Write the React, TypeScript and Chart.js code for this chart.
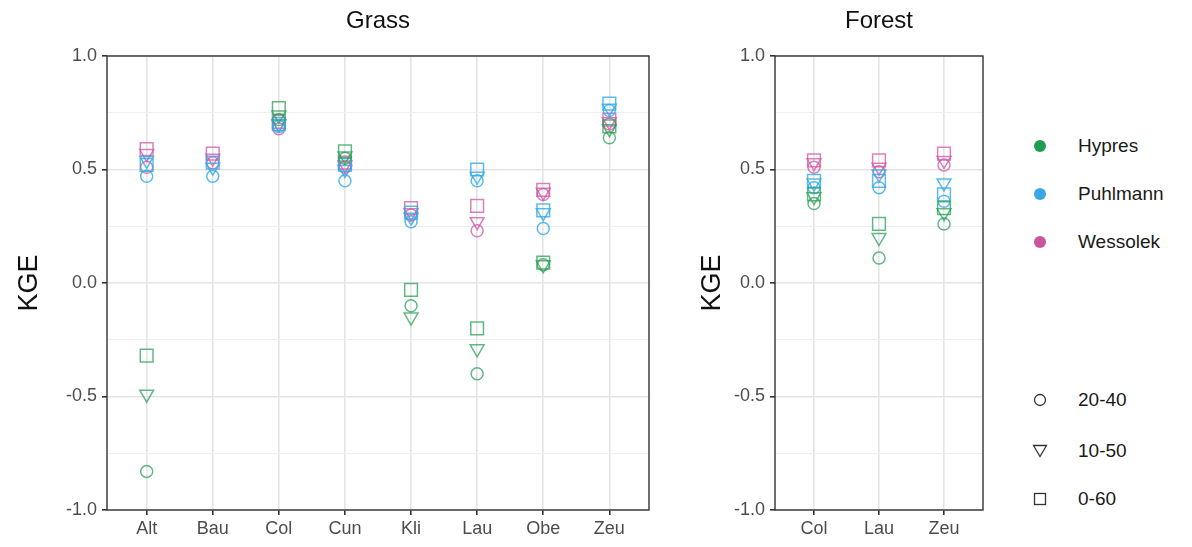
import React, { useEffect, useRef } from 'react';
import { Chart, registerables } from 'chart.js';

Chart.register(...registerables);

// ---------- data ----------
const grassSites = ['Alt', 'Bau', 'Col', 'Cun', 'Kli', 'Lau', 'Obe', 'Zeu'];
const forestSites = ['Col', 'Lau', 'Zeu'];
const modelNames = ['Hypres', 'Puhlmann', 'Wessolek'];
const depthLabels = ['20-40', '10-50', '0-60'];
const yTickValues = [-1, -0.75, -0.5, -0.25, 0, 0.25, 0.5, 0.75, 1];

// Grass panel (order: Alt, Bau, Col, Cun, Kli, Lau, Obe, Zeu)
const grassHypres2040 = [-0.83, null, 0.72, 0.55, -0.10, -0.40, 0.08, 0.64];
const grassHypres1050 = [-0.49, null, 0.74, 0.56, -0.15, -0.29, 0.08, 0.68];
const grassHypres060 = [-0.32, null, 0.77, 0.58, -0.03, -0.20, 0.09, 0.69];
const grassPuhlmann2040 = [0.47, 0.47, 0.69, 0.45, 0.27, 0.45, 0.24, 0.76];
const grassPuhlmann1050 = [0.54, 0.51, 0.70, 0.50, 0.29, 0.47, 0.31, 0.77];
const grassPuhlmann060 = [0.52, 0.53, 0.70, 0.52, 0.31, 0.50, 0.32, 0.79];
const grassWessolek2040 = [0.51, 0.53, 0.68, 0.51, 0.30, 0.23, 0.39, 0.70];
const grassWessolek1050 = [0.57, 0.55, 0.70, 0.52, 0.31, 0.27, 0.40, 0.71];
const grassWessolek060 = [0.59, 0.57, 0.71, 0.53, 0.33, 0.34, 0.41, 0.72];

// Forest panel (order: Col, Lau, Zeu)
const forestHypres2040 = [0.35, 0.11, 0.26];
const forestHypres1050 = [0.38, 0.20, 0.31];
const forestHypres060 = [0.39, 0.26, 0.33];
const forestPuhlmann2040 = [0.42, 0.42, 0.36];
const forestPuhlmann1050 = [0.44, 0.48, 0.44];
const forestPuhlmann060 = [0.45, 0.45, 0.39];
const forestWessolek2040 = [0.51, 0.49, 0.52];
const forestWessolek1050 = [0.53, 0.51, 0.54];
const forestWessolek060 = [0.54, 0.54, 0.57];

// ---------- styles ----------
const FONT = '"Liberation Sans", Arial, Helvetica, sans-serif';
const markerColors = ['rgba(45,160,90,0.75)', 'rgba(50,170,230,0.8)', 'rgba(205,85,165,0.75)'];
const legendColors = ['#1f9e50', '#38a7e2', '#c9559f'];
const depthStyles = [
  { pointStyle: 'circle', radius: 6, rotation: 0 },
  { pointStyle: 'triangle', radius: 8, rotation: 180 },
  { pointStyle: 'rect', radius: 9, rotation: 0 },
];

type Series = (number | null)[][][]; // [model][depth][site]

const grassSeries: Series = [
  [grassHypres2040, grassHypres1050, grassHypres060],
  [grassPuhlmann2040, grassPuhlmann1050, grassPuhlmann060],
  [grassWessolek2040, grassWessolek1050, grassWessolek060],
];
const forestSeries: Series = [
  [forestHypres2040, forestHypres1050, forestHypres060],
  [forestPuhlmann2040, forestPuhlmann1050, forestPuhlmann060],
  [forestWessolek2040, forestWessolek1050, forestWessolek060],
];

function isMajor(v: number) {
  return Math.abs(v * 2 - Math.round(v * 2)) < 1e-6;
}

interface PanelProps {
  title: string;
  sites: string[];
  series: Series;
  left: number;
  width: number;
  yAxisWidth: number;
  rightPad: number;
  kgeX: number;
}

function Panel({ title, sites, series, left, width, yAxisWidth, rightPad, kgeX }: PanelProps) {
  const ref = useRef<HTMLCanvasElement | null>(null);
  useEffect(() => {
    if (!ref.current) return;
    const datasets: any[] = [];
    series.forEach((modelSeries, m) => {
      modelSeries.forEach((vals, d) => {
        const st = depthStyles[d];
        datasets.push({
          label: modelNames[m] + ' ' + depthLabels[d],
          data: vals
            .map((v, i) => (v === null ? null : { x: i + 1, y: v }))
            .filter((p) => p !== null),
          pointStyle: st.pointStyle,
          pointRadius: st.radius,
          pointRotation: st.rotation,
          pointBorderWidth: 1.5,
          borderColor: markerColors[m],
          backgroundColor: 'rgba(0,0,0,0)',
          pointBackgroundColor: 'rgba(0,0,0,0)',
          pointBorderColor: markerColors[m],
          showLine: false,
        });
      });
    });

    const decor = {
      id: 'panelDecor',
      afterDraw(chart: any) {
        const { ctx, chartArea: a } = chart;
        ctx.save();
        ctx.strokeStyle = '#333333';
        ctx.lineWidth = 1.4;
        ctx.strokeRect(a.left, a.top, a.right - a.left, a.bottom - a.top);
        ctx.fillStyle = '#111111';
        ctx.textAlign = 'center';
        ctx.textBaseline = 'middle';
        ctx.font = '24px ' + FONT;
        ctx.fillText(title, (a.left + a.right) / 2, 21);
        ctx.font = '27px ' + FONT;
        ctx.translate(kgeX, (a.top + a.bottom) / 2);
        ctx.rotate(-Math.PI / 2);
        ctx.fillText('KGE', 0, 0);
        ctx.restore();
      },
    };

    const chart = new Chart(ref.current, {
      type: 'scatter',
      data: { datasets },
      plugins: [decor],
      options: {
        responsive: false,
        animation: false,
        devicePixelRatio: 1,
        layout: { padding: { top: 56, right: rightPad, left: 0, bottom: 0 } },
        plugins: { legend: { display: false }, tooltip: { enabled: false }, title: { display: false } },
        scales: {
          x: {
            type: 'linear',
            min: 0.4,
            max: sites.length + 0.6,
            afterBuildTicks: (scale: any) => {
              scale.ticks = sites.map((_, i) => ({ value: i + 1 }));
            },
            afterFit: (scale: any) => {
              scale.height = 37;
            },
            ticks: {
              autoSkip: false,
              maxRotation: 0,
              color: '#4d4d4d',
              font: { size: 18, family: FONT },
              padding: 3,
              callback: (v: any) => sites[Math.round(v) - 1] ?? '',
            },
            grid: { color: '#e4e4e4', lineWidth: 1.6, tickColor: '#333333', tickLength: 5, drawTicks: true },
            border: { display: false },
          },
          y: {
            type: 'linear',
            min: -1,
            max: 1,
            afterBuildTicks: (scale: any) => {
              scale.ticks = yTickValues.map((v) => ({ value: v }));
            },
            afterFit: (scale: any) => {
              scale.width = yAxisWidth;
            },
            ticks: {
              autoSkip: false,
              color: '#4d4d4d',
              font: { size: 18, family: FONT },
              padding: 5,
              callback: (v: any) => (isMajor(v) ? Number(v).toFixed(1) : ''),
            },
            grid: {
              color: (c: any) => (isMajor(c.tick.value) ? '#e4e4e4' : '#efefef'),
              lineWidth: (c: any) => (isMajor(c.tick.value) ? 1.6 : 1),
              tickColor: (c: any) => (isMajor(c.tick.value) ? '#333333' : 'rgba(0,0,0,0)'),
              tickLength: 5,
              drawTicks: true,
            },
            border: { display: false },
          },
        },
      } as any,
    });
    return () => chart.destroy();
  }, []);
  return (
    <canvas
      ref={ref}
      width={width}
      height={547}
      style={{ position: 'absolute', left, top: 0, width, height: 547 }}
    />
  );
}

function Shape({ kind }: { kind: number }) {
  const stroke = '#333';
  return (
    <svg width={18} height={18} viewBox="0 0 18 18" style={{ display: 'block' }}>
      {kind === 0 && <circle cx={9} cy={9} r={5.5} fill="none" stroke={stroke} strokeWidth={1.3} />}
      {kind === 1 && <polygon points="2.5,3.5 15.5,3.5 9,14.5" fill="none" stroke={stroke} strokeWidth={1.3} />}
      {kind === 2 && <rect x={3.5} y={3.5} width={11} height={11} fill="none" stroke={stroke} strokeWidth={1.3} />}
    </svg>
  );
}

function Legend() {
  const colorY = [146, 194, 242];
  const shapeY = [400, 451, 499];
  const textStyle: React.CSSProperties = {
    position: 'absolute',
    left: 1078,
    fontFamily: FONT,
    fontSize: 19,
    color: '#1a1a1a',
    lineHeight: '22px',
    transform: 'translateY(-50%)',
    whiteSpace: 'nowrap',
  };
  return (
    <>
      {modelNames.map((name, i) => (
        <React.Fragment key={name}>
          <div
            style={{
              position: 'absolute',
              left: 1040 - 6,
              top: colorY[i] - 6,
              width: 12,
              height: 12,
              borderRadius: '50%',
              background: legendColors[i],
            }}
          />
          <div style={{ ...textStyle, top: colorY[i] }}>{name}</div>
        </React.Fragment>
      ))}
      {depthLabels.map((lab, i) => (
        <React.Fragment key={lab}>
          <div style={{ position: 'absolute', left: 1040 - 9, top: shapeY[i] - 9 }}>
            <Shape kind={i} />
          </div>
          <div style={{ ...textStyle, top: shapeY[i] }}>{lab}</div>
        </React.Fragment>
      ))}
    </>
  );
}

export default function App() {
  return (
    <div
      style={{
        position: 'fixed',
        left: 0,
        top: 0,
        width: 1192,
        height: 547,
        background: '#ffffff',
        overflow: 'hidden',
      }}
    >
      <Panel
        title="Grass"
        sites={grassSites}
        series={grassSeries}
        left={0}
        width={665}
        yAxisWidth={107}
        rightPad={16}
        kgeX={30}
      />
      <Panel
        title="Forest"
        sites={forestSites}
        series={forestSeries}
        left={680}
        width={320}
        yAxisWidth={95}
        rightPad={17}
        kgeX={33}
      />
      <Legend />
    </div>
  );
}
